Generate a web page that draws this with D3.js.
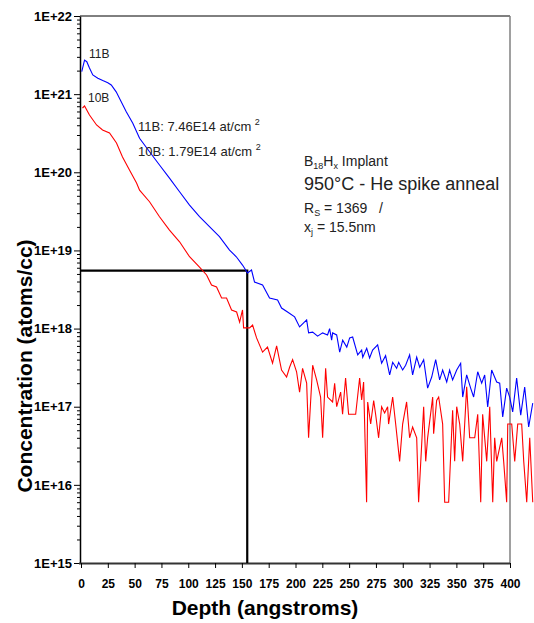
<html lang="en">
  <head>
    <meta charset="UTF-8" />
    <title>B18Hx implant SIMS profile</title>
    <script src="https://d3js.org/d3.v7.min.js"></script>
  </head>
  <style>
    body { margin: 0; background: #fff; }
    text { font-family: "Liberation Sans", Arial, sans-serif; }
  </style>
  <body>
    <svg></svg>
  </body>
  <footer>
    <script>
      var width = 534;
      var height = 623;

      // 11B profile (blue)
      var depth11 = [0.7, 3.3, 5.4, 7.9, 11.0, 15.7, 20.3, 25.0, 28.2, 32.8, 37.5, 42.2, 48.3, 54.6, 63.9, 73.2,
        82.5, 91.9, 101.2, 110.5, 119.8, 129.1, 138.5, 144.8, 150.6, 155.3, 159.0, 161.8, 169.3, 175.8, 183.3,
        187.0, 192.6, 199.2, 203.8, 210.4, 212.2, 216.0, 220.6, 225.3, 229.9, 231.8, 233.7, 234.6, 238.4, 241.2,
        244.0, 247.8, 250.5, 253.3, 258.0, 261.7, 262.7, 266.4, 269.1, 271.9, 276.6, 280.3, 284.0, 287.8, 290.6,
        294.3, 296.2, 299.9, 302.7, 306.4, 309.2, 313.0, 315.8, 319.5, 323.2, 327.0, 330.7, 334.4, 337.2, 341.0,
        343.7, 346.5, 350.3, 354.0, 355.9, 359.6, 363.3, 366.1, 369.9, 373.6, 376.4, 379.2, 382.9, 387.6, 390.4,
        393.2, 396.9, 399.7, 402.5, 406.2, 410.0, 413.7, 417.4, 421.2];
      var conc11 = [1.94e21, 2.73e21, 2.6e21, 2.16e21, 1.76e21, 1.6e21, 1.49e21, 1.4e21, 1.31e21, 1.07e21, 8.0e20,
        5.96e20, 4.24e20, 2.72e20, 1.83e20, 1.24e20, 8.4e19, 5.64e19, 3.81e19, 2.7e19, 2.01e19, 1.5e19, 1.01e19,
        8.3e18, 6.5e18, 5.14e18, 5.61e18, 3.94e18, 3.61e18, 2.46e18, 2.32e18, 1.83e18, 1.63e18, 1.41e18, 1.05e18,
        1.29e18, 8.8e17, 9.0e17, 8.0e17, 8.8e17, 8.3e17, 1.0e18, 7.1e17, 8.8e17, 8.3e17, 5.0e17, 7.1e17, 5.8e17,
        7.6e17, 7.8e17, 4.6e17, 5.3e17, 4.3e17, 5.6e17, 4.2e17, 5.3e17, 6.2e17, 3.6e17, 4.5e17, 2.55e17, 3.7e17,
        3.1e17, 3.7e17, 2.95e17, 3.4e17, 4.6e17, 2.55e17, 4.3e17, 3.2e17, 4.0e17, 1.73e17, 2.4e17, 4.0e17, 2.2e17,
        2.95e17, 2.07e17, 2.95e17, 2.2e17, 2.95e17, 3.6e17, 1.33e17, 2.55e17, 1.73e17, 1.33e17, 2.8e17, 2.0e17,
        2.55e17, 9.9e16, 2.95e17, 2.07e17, 2.0e17, 7.4e16, 1.73e17, 1.33e17, 8.6e16, 2.33e17, 7.8e16, 1.79e17,
        5.5e16, 1.11e17];

      // 10B profile (red)
      var depth10 = [1.4, 3.3, 7.9, 14.5, 20.1, 26.6, 33.1, 38.7, 45.2, 51.8, 54.6, 63.9, 73.2, 82.5, 91.9, 101.2,
        110.5, 117.1, 121.7, 126.4, 131.1, 135.7, 140.4, 145.1, 147.9, 150.6, 151.6, 157.2, 160.0, 163.7, 169.3,
        173.9, 178.6, 182.4, 187.0, 191.7, 194.5, 197.3, 201.0, 203.8, 206.6, 210.4, 212.2, 216.0, 219.7, 223.4,
        225.3, 228.1, 229.9, 234.6, 236.5, 238.4, 242.1, 243.9, 246.7, 249.5, 256.1, 259.8, 261.7, 263.5, 266.3,
        267.3, 270.1, 272.9, 274.7, 277.5, 280.3, 283.1, 285.9, 286.8, 290.6, 293.4, 297.1, 299.9, 303.6, 306.4,
        309.2, 313.0, 314.8, 319.5, 321.4, 323.2, 327.9, 328.8, 331.6, 333.5, 337.2, 339.1, 342.8, 346.5, 348.4,
        350.3, 353.1, 355.9, 359.6, 362.4, 367.1, 369.9, 372.7, 374.5, 378.3, 381.1, 383.9, 385.7, 387.6, 392.3,
        394.1, 396.9, 397.9, 401.6, 404.4, 407.2, 410.9, 412.8, 415.6, 418.4, 421.2];
      var conc10 = [6.65e20, 7.05e20, 5.4e20, 4.03e20, 3.48e20, 3.18e20, 2.37e20, 1.57e20, 1.07e20, 7.3e19, 5.9e19,
        4.2e19, 2.7e19, 1.82e19, 1.29e19, 8.3e18, 6.1e18, 4.85e18, 3.6e18, 3.4e18, 2.46e18, 2.46e18, 1.73e18,
        1.63e18, 1.21e18, 1.73e18, 1.02e18, 1.02e18, 1.11e18, 7.6e17, 5.0e17, 5.8e17, 3.6e17, 6.0e17, 2.95e17,
        2.4e17, 3.2e17, 4.0e17, 2.8e17, 1.54e17, 3.1e17, 2.0e17, 4e16, 3.4e17, 2.2e17, 1.33e17, 4e16, 3.1e17,
        1.33e17, 1.15e17, 2.0e17, 1e17, 1.54e17, 8e16, 2.33e17, 8e16, 8e16, 2.33e17, 1.22e17, 2.07e17, 6e15,
        1.15e17, 6e16, 1.2e17, 8e16, 4e16, 1e17, 8.3e16, 1e17, 6e16, 1.33e17, 6e16, 2e16, 6e16, 1.15e17, 4e16,
        5.5e16, 4e16, 6e15, 1e17, 2e16, 4e16, 1.33e17, 4.5e16, 1.2e17, 1.33e17, 6e16, 6e15, 6e15, 9e16, 2e16,
        1e17, 6e16, 2e16, 1.8e17, 4e16, 4e16, 8e16, 6e15, 8e16, 2e16, 1e17, 6e15, 4e16, 2e16, 4e16, 2e16, 6e15,
        6e16, 6e16, 2e16, 6e16, 6e16, 2e16, 6e15, 4e16, 6e15];

      // junction marker
      var refDepth = 155;
      var refConc = 5.5e18;

      var xTicks = d3.range(0, 401, 25);
      var yMajor = [1e15, 1e16, 1e17, 1e18, 1e19, 1e20, 1e21, 1e22];
      var yMinor = [];
      yMajor.slice(0, -1).forEach(function (m) {
        for (var k = 2; k <= 9; k++) yMinor.push(m * k);
      });

      var svg = d3.select("svg").attr("width", width).attr("height", height);

      var x = d3.scaleLinear().domain([0, 400]).range([81, 510]);
      var y = d3.scaleLog().domain([1e15, 1e22]).range([563, 16]);

      // frame (top + right)
      svg.append("line").attr("x1", 80).attr("x2", 510).attr("y1", 16).attr("y2", 16)
        .style("stroke", "#000").style("stroke-width", 1);
      svg.append("line").attr("x1", 510).attr("x2", 510).attr("y1", 16).attr("y2", 563)
        .style("stroke", "#808080").style("stroke-width", 1.5);

      // y axis
      svg.append("g")
        .attr("transform", "translate(80,0)")
        .call(d3.axisLeft(y).tickValues(yMinor).tickSize(3).tickFormat(""))
        .call((g) => g.select(".domain").remove());

      var yAxis = svg.append("g")
        .attr("transform", "translate(80,0)")
        .call(d3.axisLeft(y).tickValues(yMajor).tickSize(6).tickSizeOuter(0).tickPadding(2)
          .tickFormat((d) => "1E+" + Math.round(Math.log10(d))));
      yAxis.selectAll("text").style("font-size", "13px").style("font-weight", "bold")
        .style("font-family", "'Liberation Sans', Arial, sans-serif");
      yAxis.select(".domain").style("stroke-width", 1.5);

      // x axis
      var xAxis = svg.append("g")
        .attr("transform", "translate(0,563)")
        .call(d3.axisBottom(x).tickValues(xTicks).tickSize(5).tickSizeOuter(0).tickPadding(11));
      xAxis.selectAll("text").style("font-size", "12px").style("font-weight", "bold")
        .style("font-family", "'Liberation Sans', Arial, sans-serif");
      xAxis.select(".domain").attr("d", "M79,0.5H510").style("stroke-width", 2).style("stroke", "#333");

      // reference lines
      svg.append("path")
        .attr("d", "M80," + y(refConc) + "H" + x(refDepth) + "V563")
        .style("fill", "none").style("stroke", "#000").style("stroke-width", 2.2);

      var line = d3.line().x((d) => x(d[0])).y((d) => y(d[1]));

      svg.append("path")
        .datum(d3.zip(depth10, conc10))
        .attr("d", line)
        .style("fill", "none").style("stroke", "#ff0000").style("stroke-width", 1.1);

      svg.append("path")
        .datum(d3.zip(depth11, conc11))
        .attr("d", line)
        .style("fill", "none").style("stroke", "#0000ff").style("stroke-width", 1.1);

      // labels
      var ann = svg.append("g").style("font-size", "12px").style("fill", "#222");
      ann.append("text").attr("x", 89).attr("y", 58).text("11B");
      ann.append("text").attr("x", 88).attr("y", 102).text("10B");

      var dose = svg.append("g").style("font-size", "13px").style("fill", "#222");
      var t1 = dose.append("text").attr("x", 138).attr("y", 131).text("11B: 7.46E14 at/cm ");
      t1.append("tspan").attr("dy", -6).style("font-size", "9px").text("2");
      var t2 = dose.append("text").attr("x", 138).attr("y", 156).text("10B: 1.79E14 at/cm ");
      t2.append("tspan").attr("dy", -6).style("font-size", "9px").text("2");

      var box = svg.append("g").style("fill", "#222");
      var b1 = box.append("text").attr("x", 304).attr("y", 166).style("font-size", "14px").text("B");
      b1.append("tspan").attr("dy", 3).style("font-size", "9px").text("18");
      b1.append("tspan").attr("dy", -3).text("H");
      b1.append("tspan").attr("dy", 3).style("font-size", "9px").text("x");
      b1.append("tspan").attr("dy", -3).text(" Implant");
      box.append("text").attr("x", 304).attr("y", 190).style("font-size", "18px").text("950\u00B0C - He spike anneal");
      var b3 = box.append("text").attr("x", 304).attr("y", 213).style("font-size", "14px").text("R");
      b3.append("tspan").attr("dy", 3).style("font-size", "9px").text("S");
      b3.append("tspan").attr("dy", -3).text(" = 1369   /");
      b3.style("white-space", "pre");
      var b4 = box.append("text").attr("x", 304).attr("y", 232).style("font-size", "14px").text("x");
      b4.append("tspan").attr("dy", 3).style("font-size", "9px").text("j");
      b4.append("tspan").attr("dy", -3).text(" = 15.5nm");

      // axis titles
      svg.append("text")
        .attr("x", 265).attr("y", 615)
        .attr("text-anchor", "middle")
        .style("font-size", "21px").style("font-weight", "bold")
        .text("Depth (angstroms)");

      svg.append("text")
        .attr("transform", "translate(32,366) rotate(-90)")
        .attr("text-anchor", "middle")
        .style("font-size", "21px").style("font-weight", "bold")
        .text("Concentration (atoms/cc)");
    </script>
  </footer>
</html>
